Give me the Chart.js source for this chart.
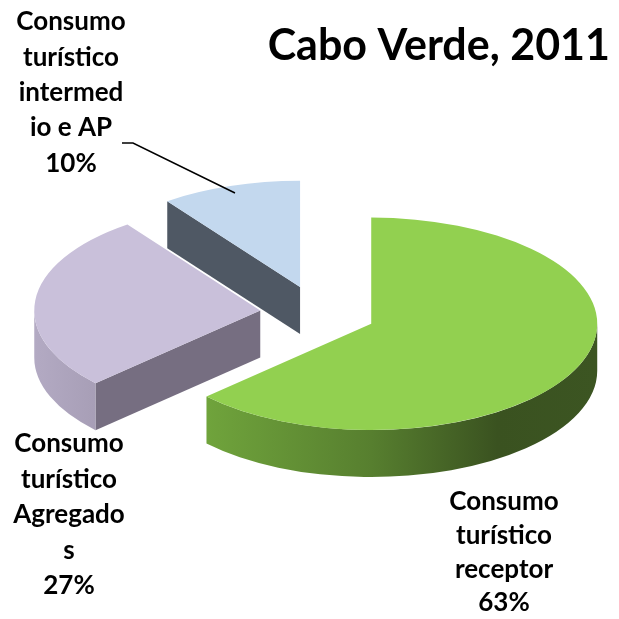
<!DOCTYPE html>
<html>
<head>
<meta charset="utf-8">
<script src="https://cdn.jsdelivr.net/npm/chart.js@4.4.0/dist/chart.umd.min.js"></script>
<style>
  html, body { margin: 0; padding: 0; background: #fff; }
  #wrap { width: 619px; height: 619px; }
</style>
</head>
<body>
<div id="wrap"><canvas id="pieChart" width="619" height="619"></canvas></div>
<script>
const chartTitle = 'Cabo Verde, 2011';
const categories = ['Consumo turístico receptor', 'Consumo turístico Agregados', 'Consumo turístico intermedio e AP'];
const shares = [63, 27, 10];
// category names wrapped the way the original chart wraps them
const labelLines = [
    ['Consumo', 'turístico', 'receptor'],
    ['Consumo', 'turístico', 'Agregado', 's'],
    ['Consumo', 'turístico', 'intermed', 'io e AP']
];

const topColors = ['#92d050', '#c9c0da', '#c3d8ee'];
const cutColors = ['#4a6a2a', '#766e81', '#4f5864'];
const wallStops = [
    [[0, '#86bd4c'], [0.13, '#70a43c'], [0.5, '#577f2f'], [0.78, '#3a5220'], [1, '#3c5522']],
    [[0, '#b3aac3'], [0.15, '#a69db5'], [1, '#8d849c']],
    [[0, '#9fb3c8'], [1, '#7f91a4']]
];

// 3d look: flatten the pie, pull slices apart and give them a wall
const pie3d = {
    id: 'pie3d',
    beforeDatasetsDraw(chart, args, opts) {
        const ctx = chart.ctx;
        const meta = chart.getDatasetMeta(0);
        const k = opts.tilt;
        const depth = opts.depth;

        opts.order.forEach(i => {
            const arc = meta.data[i];
            const { x, y, startAngle, endAngle, outerRadius } =
                arc.getProps(['x', 'y', 'startAngle', 'endAngle', 'outerRadius'], true);
            const mid = (startAngle + endAngle) / 2;
            const cx = x + Math.cos(mid) * opts.explode;
            const cy = y + Math.sin(mid) * opts.explode * k;
            const R = outerRadius;
            const ry = R * k;

            // cut faces that look toward the viewer
            const faces = [];
            if (Math.cos(startAngle) < -0.001) faces.push(startAngle);
            if (Math.cos(endAngle) > 0.001) faces.push(endAngle);
            faces.forEach(a => {
                const ox = cx + Math.cos(a) * R;
                const oy = cy + Math.sin(a) * ry;
                ctx.beginPath();
                ctx.moveTo(cx, cy);
                ctx.lineTo(ox, oy);
                ctx.lineTo(ox, oy + depth);
                ctx.lineTo(cx, cy + depth);
                ctx.closePath();
                ctx.fillStyle = cutColors[i];
                ctx.fill();
            });

            // outer wall, front half only
            const a0 = Math.max(startAngle, 0);
            const a1 = Math.min(endAngle, Math.PI);
            if (a1 > a0) {
                const grad = ctx.createLinearGradient(cx - R, 0, cx + R, 0);
                wallStops[i].forEach(s => grad.addColorStop(s[0], s[1]));
                ctx.beginPath();
                ctx.ellipse(cx, cy, R, ry, 0, a0, a1, false);
                ctx.ellipse(cx, cy + depth, R, ry, 0, a1, a0, true);
                ctx.closePath();
                ctx.fillStyle = grad;
                ctx.fill();
            }

            // top face is the library's own arc, squashed
            ctx.save();
            ctx.translate(cx, cy);
            ctx.scale(1, k);
            ctx.translate(-x, -y);
            arc.draw(ctx);
            ctx.restore();
        });
        return false;
    }
};

const sliceLabels = {
    id: 'sliceLabels',
    afterDraw(chart, args, opts) {
        const ctx = chart.ctx;
        ctx.save();
        ctx.fillStyle = '#000';
        ctx.font = opts.font;
        ctx.textAlign = 'center';
        ctx.textBaseline = 'middle';
        opts.spots.forEach((p, i) => {
            const lines = labelLines[i].concat([shares[i] + '%']);
            lines.forEach((t, n) => ctx.fillText(t, p.x, p.y + n * p.lh));
        });
        // leader line for the small slice
        const l = opts.leader;
        ctx.strokeStyle = '#000';
        ctx.lineWidth = 1.5;
        ctx.beginPath();
        ctx.moveTo(l[0][0], l[0][1]);
        for (let n = 1; n < l.length; n++) ctx.lineTo(l[n][0], l[n][1]);
        ctx.stroke();
        ctx.restore();
    }
};

new Chart(document.getElementById('pieChart'), {
    type: 'pie',
    data: {
        labels: categories,
        datasets: [{
            data: shares,
            backgroundColor: topColors,
            borderWidth: 0,
            offset: 0
        }]
    },
    options: {
        responsive: false,
        animation: false,
        radius: 226,
        layout: { padding: { left: 26, right: 9, top: 20, bottom: 64.6 } },
        plugins: {
            legend: { display: false },
            tooltip: { enabled: false },
            title: {
                display: true,
                text: chartTitle,
                align: 'end',
                color: '#000',
                padding: 0,
                font: { family: 'Lato', size: 43, weight: 'bold', lineHeight: 1.2 }
            },
            pie3d: { tilt: 0.47, depth: 47, explode: 58, order: [2, 1, 0] },
            sliceLabels: {
                font: 'bold 26px Lato',
                spots: [
                    { x: 504, y: 502, lh: 33.7 },
                    { x: 69, y: 444, lh: 35.5 },
                    { x: 71, y: 22, lh: 35.3 }
                ],
                leader: [[122, 143], [133, 143], [235, 193]]
            }
        }
    },
    plugins: [pie3d, sliceLabels]
});
</script>
</body>
</html>
